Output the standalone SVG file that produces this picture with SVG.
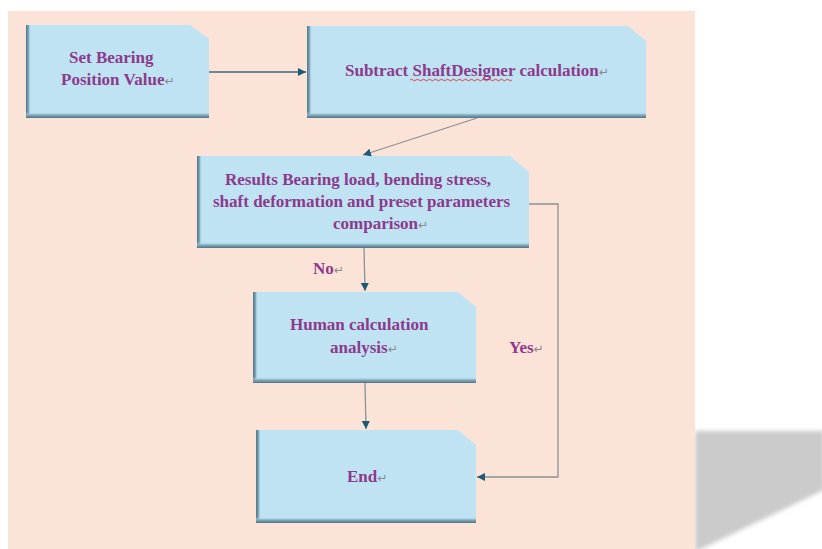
<svg xmlns="http://www.w3.org/2000/svg" width="822" height="549" viewBox="0 0 822 549">
<defs>
<style>
.box{fill:#bfe3f3}
.t{font-family:"Liberation Serif","Times New Roman",serif;font-weight:bold;font-size:17px;fill:#8c3a8c}
.r{font-family:"DejaVu Sans",sans-serif;font-weight:normal;font-size:12px;fill:#8a8a8a}
.ln{fill:none;stroke:#8a9297;stroke-width:1.3}
.ln2{fill:none;stroke:#3c6a80;stroke-width:1.3}
</style>
<linearGradient id="gl" x1="0" y1="0" x2="1" y2="0">
<stop offset="0" stop-color="#4d7486"/>
<stop offset="0.5" stop-color="#7fa7b8"/>
<stop offset="1" stop-color="#bfe3f3" stop-opacity="0"/>
</linearGradient>
<linearGradient id="gb" x1="0" y1="1" x2="0" y2="0">
<stop offset="0" stop-color="#4d7486"/>
<stop offset="0.5" stop-color="#84abbb"/>
<stop offset="1" stop-color="#bfe3f3" stop-opacity="0"/>
</linearGradient>
<marker id="ah" viewBox="0 0 10 10" refX="10" refY="5" markerWidth="8" markerHeight="8" markerUnits="userSpaceOnUse" orient="auto">
<path d="M0,0 L10,5 L0,10 z" fill="#1d5a77"/>
</marker>
<filter id="blur" x="-10%" y="-10%" width="120%" height="120%"><feGaussianBlur stdDeviation="2"/></filter>
</defs>
<rect width="822" height="549" fill="#ffffff"/>
<polygon points="695,431 824,431 824,490 695,552" fill="#cbcbcb" filter="url(#blur)"/>
<rect x="8" y="11" width="687" height="540" fill="#fbe3d7"/>

<g id="n1">
<polygon class="box" points="26,25 190,25 209,39 209,118 26,118"/>
<rect x="26" y="25" width="5" height="93" fill="url(#gl)"/>
<rect x="26" y="112" width="183" height="6" fill="url(#gb)"/>
<text class="t" x="69" y="63">Set Bearing</text>
<text class="t" x="61" y="85">Position Value<tspan class="r">↵</tspan></text>
</g>

<g id="n2">
<polygon class="box" points="307,26 628,26 646,41 646,118 307,118"/>
<rect x="307" y="26" width="5" height="92" fill="url(#gl)"/>
<rect x="307" y="112" width="339" height="6" fill="url(#gb)"/>
<text class="t" x="345" y="76">Subtract ShaftDesigner calculation<tspan class="r">↵</tspan></text>
<path d="M410,80 q1.5,-1.5 3,0 t3,0 t3,0 t3,0 t3,0 t3,0 t3,0 t3,0 t3,0 t3,0 t3,0 t3,0 t3,0 t3,0 t3,0 t3,0 t3,0 t3,0 t3,0 t3,0 t3,0 t3,0 t3,0 t3,0 t3,0 t3,0 t3,0 t3,0 t3,0 t3,0 t3,0 t3,0 t3,0 t3,0" fill="none" stroke="#e02020" stroke-width="0.8"/>
</g>

<g id="n3">
<polygon class="box" points="197,156 510,156 529,172 529,248 197,248"/>
<rect x="197" y="156" width="5" height="92" fill="url(#gl)"/>
<rect x="197" y="242" width="332" height="6" fill="url(#gb)"/>
<text class="t" x="225" y="185">Results Bearing load, bending stress,</text>
<text class="t" x="213" y="207">shaft deformation and preset parameters</text>
<text class="t" x="333" y="229">comparison<tspan class="r">↵</tspan></text>
</g>

<g id="n4">
<polygon class="box" points="253,292 458,292 476,307 476,383 253,383"/>
<rect x="253" y="292" width="5" height="91" fill="url(#gl)"/>
<rect x="253" y="377" width="223" height="6" fill="url(#gb)"/>
<text class="t" x="290" y="330">Human calculation</text>
<text class="t" x="330" y="353">analysis<tspan class="r">↵</tspan></text>
</g>

<g id="n5">
<polygon class="box" points="256,430 458,430 476,445 476,523 256,523"/>
<rect x="256" y="430" width="5" height="93" fill="url(#gl)"/>
<rect x="256" y="517" width="220" height="6" fill="url(#gb)"/>
<text class="t" x="347" y="482">End<tspan class="r">↵</tspan></text>
</g>

<g id="labels">
<text class="t" x="313" y="274">No<tspan class="r">↵</tspan></text>
<text class="t" x="509" y="353">Yes<tspan class="r">↵</tspan></text>
</g>

<g id="connectors">
<line class="ln2" x1="209" y1="72" x2="306" y2="72" marker-end="url(#ah)"/>
<line class="ln" x1="477" y1="118" x2="363" y2="155" marker-end="url(#ah)"/>
<line class="ln" x1="364" y1="248" x2="365" y2="291" marker-end="url(#ah)"/>
<line class="ln" x1="365" y1="383" x2="366" y2="429" marker-end="url(#ah)"/>
<polyline class="ln" points="529,204 558,204 558,477 477,477" marker-end="url(#ah)"/>
</g>
</svg>
